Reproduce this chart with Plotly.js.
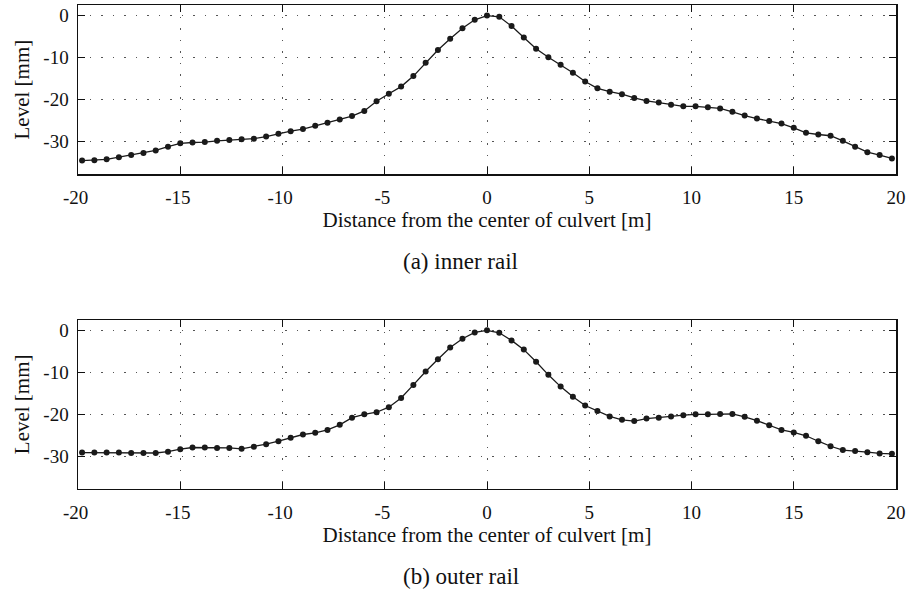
<!DOCTYPE html>
<html>
<head>
<meta charset="utf-8">
<script src="https://cdn.plot.ly/plotly-3.0.1.min.js"></script>
<style>
  html, body { margin: 0; padding: 0; background: #fff; }
  #chart { width: 909px; height: 590px; }
</style>
</head>
<body>
<div id="chart"></div>
<script>
// Survey positions along the track, every 0.6 m either side of the culvert centre
const distance = [
  -19.8, -19.2, -18.6, -18.0, -17.4, -16.8, -16.2, -15.6, -15.0, -14.4,
  -13.8, -13.2, -12.6, -12.0, -11.4, -10.8, -10.2, -9.6, -9.0, -8.4,
  -7.8, -7.2, -6.6, -6.0, -5.4, -4.8, -4.2, -3.6, -3.0, -2.4,
  -1.8, -1.2, -0.6, 0.0, 0.6, 1.2, 1.8, 2.4, 3.0, 3.6,
  4.2, 4.8, 5.4, 6.0, 6.6, 7.2, 7.8, 8.4, 9.0, 9.6,
  10.2, 10.8, 11.4, 12.0, 12.6, 13.2, 13.8, 14.4, 15.0, 15.6,
  16.2, 16.8, 17.4, 18.0, 18.6, 19.2, 19.8
];

// Rail level [mm], inner rail
const innerLevel = [
  -34.5, -34.4, -34.2, -33.7, -33.2, -32.7, -32.1, -31.2, -30.4, -30.2,
  -30.1, -29.8, -29.6, -29.4, -29.3, -28.8, -28.1, -27.5, -27.0, -26.2,
  -25.5, -24.7, -23.9, -22.7, -20.4, -18.6, -16.9, -14.4, -11.2, -8.2,
  -5.5, -3.0, -1.0, 0.0, -0.3, -2.5, -5.2, -7.9, -9.9, -11.7,
  -13.6, -15.7, -17.3, -18.1, -18.7, -19.6, -20.3, -20.7, -21.2, -21.6,
  -21.6, -21.8, -22.1, -22.9, -23.8, -24.5, -25.1, -25.7, -26.7, -27.9,
  -28.3, -28.6, -29.8, -31.2, -32.5, -33.2, -34.0
];

// Rail level [mm], outer rail
const outerLevel = [
  -29.1, -29.1, -29.1, -29.1, -29.2, -29.2, -29.2, -28.9, -28.3, -27.9,
  -27.9, -28.0, -28.0, -28.2, -27.7, -27.1, -26.4, -25.6, -24.8, -24.4,
  -23.7, -22.5, -20.8, -20.0, -19.5, -18.3, -16.1, -13.0, -9.8, -6.9,
  -4.1, -2.0, -0.5, 0.0, -0.6, -2.4, -4.6, -7.5, -10.6, -13.4,
  -15.8, -17.9, -19.2, -20.5, -21.3, -21.6, -21.0, -20.8, -20.5, -20.2,
  -20.0, -20.0, -19.9, -19.9, -20.6, -21.5, -22.6, -23.7, -24.3, -25.1,
  -26.4, -27.6, -28.5, -28.7, -29.0, -29.3, -29.4
];

// Tick positions and their labels (plain hyphen as the minus sign)
const xTickVals = [-20, -15, -10, -5, 0, 5, 10, 15, 20];
const xTickText = ['-20\u00a0', '-15\u00a0', '-10\u00a0', '-5\u00a0', '0', '5', '10', '15', '20'];
const yTickVals = [-30, -20, -10, 0];
const yTickText = ['-30', '-20', '-10', '0'];
const xLabel = 'Distance from the center of culvert [m]';
const yLabel = 'Level [mm]';
const captions = ['(a) inner rail', '(b) outer rail'];

const serif = 'Liberation Serif, Times New Roman, serif';
const ink = '#111';

function series(y, xa, ya) {
  return {
    x: distance, y: y, xaxis: xa, yaxis: ya,
    type: 'scatter', mode: 'lines+markers',
    line: { color: '#1a1a1a', width: 1.3 },
    marker: { color: '#1a1a1a', size: 6, symbol: 'circle' },
    hoverinfo: 'x+y', showlegend: false
  };
}

const frame = {
  ticks: 'inside', ticklen: 7, tickcolor: ink, tickwidth: 1,
  showline: true, linecolor: ink, linewidth: 1.5, mirror: 'ticks',
  showgrid: true, gridcolor: '#555', gridwidth: 1, griddash: '1.5px,10px',
  zeroline: false,
  tickfont: { family: serif, size: 19, color: ink }
};

function xAxis(domain, anchor) {
  return Object.assign({}, frame, {
    domain: domain, anchor: anchor,
    range: [-20, 20], tickvals: xTickVals, ticktext: xTickText,
    ticklabelstandoff: 6,
    title: { text: xLabel, font: { family: serif, size: 21, color: ink }, standoff: 4 }
  });
}

function yAxis(domain, anchor) {
  return Object.assign({}, frame, {
    domain: domain, anchor: anchor,
    range: [-37.7, 2.45], tickvals: yTickVals, ticktext: yTickText,
    ticklabelstandoff: 4,
    title: { text: yLabel, font: { family: serif, size: 21, color: ink }, standoff: 8 }
  });
}

const xDom = [78 / 909, 896 / 909];

const layout = {
  width: 909, height: 590,
  margin: { l: 0, r: 0, t: 0, b: 0 },
  paper_bgcolor: '#fff', plot_bgcolor: '#fff',
  xaxis: xAxis(xDom, 'y'),
  yaxis: yAxis([1 - 174 / 590, 1 - 5.3 / 590], 'x'),
  xaxis2: xAxis(xDom, 'y2'),
  yaxis2: yAxis([1 - 488.7 / 590, 1 - 320 / 590], 'x2'),
  annotations: [
    { text: captions[0], xref: 'paper', yref: 'paper', x: 461 / 909, y: 1 - 261.5 / 590,
      xanchor: 'center', yanchor: 'middle', showarrow: false,
      font: { family: serif, size: 23, color: ink } },
    { text: captions[1], xref: 'paper', yref: 'paper', x: 461 / 909, y: 1 - 576 / 590,
      xanchor: 'center', yanchor: 'middle', showarrow: false,
      font: { family: serif, size: 23, color: ink } }
  ]
};

Plotly.newPlot('chart', [
  series(innerLevel, 'x', 'y'),
  series(outerLevel, 'x2', 'y2')
], layout, { displayModeBar: false, staticPlot: true });
</script>
</body>
</html>
